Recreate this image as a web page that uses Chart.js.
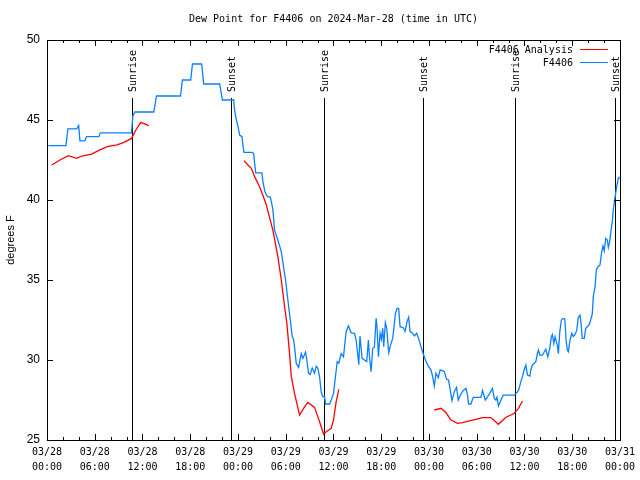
<!DOCTYPE html>
<html lang="en">
<head>
  <meta charset="UTF-8">
  <title>Dew Point for F4406</title>
  <script src="https://cdn.jsdelivr.net/npm/chart.js"></script>
  <style>
    body { margin: 0; background: #fff; }
    canvas { display: block; }
  </style>
</head>
<body>
  <canvas id="dewChart" width="640" height="480"></canvas>

  <script>
    // hours since 2024-03-28 00:00 UTC
    const stationHours = [
      0.16, 2.38, 2.63, 3.73, 3.98, 4.14, 4.77, 4.95, 6.52, 6.71, 10.62, 10.79, 11.04, 13.42, 13.76,
      16.77, 17.02, 18.06, 18.28, 19.44, 19.69, 21.70, 22.04, 23.46, 23.58, 23.80, 24.00, 24.21, 24.50,
      24.62, 24.75, 25.80, 25.97, 26.22, 27.01, 27.13, 27.35, 27.56, 27.76, 28.06, 28.19, 28.39, 28.60,
      29.01, 29.44, 29.73, 29.98, 30.27, 30.57, 30.82, 30.98, 31.11, 31.32, 31.61, 31.95, 32.15, 32.49,
      32.65, 32.87, 33.08, 33.33, 33.62, 33.83, 34.03, 34.25, 34.46, 34.66, 34.87, 35.00, 35.50, 35.71,
      36.00, 36.25, 36.47, 36.67, 36.97, 37.26, 37.59, 37.88, 38.22, 38.64, 38.85, 39.18, 39.33, 39.60,
      39.89, 40.18, 40.39, 40.52, 40.73, 40.93, 41.14, 41.36, 41.48, 41.65, 41.86, 42.02, 42.19, 42.31,
      42.52, 42.69, 42.94, 43.15, 43.44, 43.57, 43.78, 43.99, 44.19, 44.37, 44.78, 45.00, 45.25, 45.45,
      45.62, 45.95, 46.16, 46.45, 46.70, 47.00, 47.29, 47.63, 47.96, 48.26, 48.46, 48.67, 48.88, 49.17,
      49.39, 49.71, 49.93, 50.21, 50.46, 50.64, 50.89, 51.18, 51.47, 51.68, 51.93, 52.31, 52.65, 52.85,
      52.97, 53.27, 53.56, 54.53, 54.73, 55.07, 55.36, 55.70, 55.98, 56.20, 56.41, 56.54, 56.74, 57.04,
      57.33, 58.71, 58.92, 59.25, 59.55, 59.75, 59.96, 60.17, 60.38, 60.68, 60.80, 61.00, 61.43, 61.63,
      61.76, 61.93, 62.26, 62.68, 62.93, 63.18, 63.38, 63.51, 63.69, 63.85, 64.01, 64.14, 64.26, 64.44,
      64.64, 64.85, 65.07, 65.23, 65.39, 65.52, 65.69, 65.94, 66.14, 66.36, 66.57, 66.77, 66.98, 67.11,
      67.27, 67.52, 67.70, 67.90, 68.11, 68.33, 68.53, 68.65, 68.87, 69.03, 69.24, 69.49, 69.71, 69.87,
      70.03, 70.21, 70.41, 70.54, 70.71, 70.84, 71.04, 71.16, 71.34, 71.46, 71.59, 71.79, 71.88
    ];
    const stationDew = [
      43.4, 43.4, 44.45, 44.45, 44.65, 43.7, 43.7, 43.96, 43.96, 44.2, 44.2, 45.25, 45.5, 45.5, 46.5,
      46.5, 47.5, 47.5, 48.5, 48.5, 47.25, 47.25, 46.25, 46.25, 45.6, 45.0, 44.6, 44.06, 43.96,
      43.44, 42.98, 42.98, 42.9, 41.7, 41.7, 41.15, 40.6, 40.3, 40.2, 40.2, 39.9, 39.4, 38.1,
      37.5, 36.77, 35.8, 35.0, 33.75, 32.5, 31.46, 31.3, 30.8, 29.8, 29.54, 30.4, 30.1, 30.5,
      30.0, 29.17, 29.1, 29.5, 29.17, 29.6, 29.5, 28.96, 28.0, 27.7, 27.75, 27.25, 27.25, 27.5,
      27.9, 28.96, 29.9, 29.8, 30.4, 30.2, 31.77, 32.14, 31.7, 31.67, 31.25, 29.7, 31.5, 30.1,
      30.0, 29.9, 31.25, 30.2, 29.27, 30.73, 30.8, 32.6, 32.0, 30.2, 31.67, 31.3, 31.98, 30.83,
      32.35, 32.0, 30.46, 30.9, 31.35, 31.9, 32.9, 33.23, 33.23, 32.08, 32.02, 31.8, 32.4, 32.67,
      31.77, 31.67, 31.5, 31.67, 31.35, 30.83, 30.375, 29.9, 29.58, 29.375, 28.96, 28.375, 29.17, 28.9,
      29.375, 29.33, 29.27, 28.79, 28.75, 28.23, 27.46, 28.02, 28.29, 27.5, 27.8, 28.1, 28.23, 27.8,
      27.25, 27.25, 27.67, 27.67, 28.1, 27.5, 27.7, 27.98, 28.23, 27.6, 27.5, 27.67, 27.125, 27.5,
      27.8, 27.8, 27.9, 28.1, 28.65, 28.96, 29.375, 29.69, 29.06, 29.0, 29.375, 29.69, 29.9, 30.42,
      30.625, 30.3, 30.3, 30.67, 30.2, 30.73, 31.46, 31.6, 31.04, 31.46, 31.15, 30.9, 30.4, 31.77,
      32.5, 32.6, 32.56, 31.25, 30.625, 30.52, 31.15, 31.67, 31.46, 31.6, 31.85, 32.67, 32.8, 32.29,
      31.35, 31.35, 31.98, 32.08, 32.19, 32.5, 32.9, 33.96, 34.58, 35.625, 35.83, 35.94, 36.77, 37.125,
      36.83, 37.6, 37.5, 37.04, 37.4, 37.96, 38.65, 39.375, 40.04, 40.42, 40.83, 41.35, 41.46
    ];

    // null entries break the analysis line where there is no data
    const analysisHours = [
      0.59, 1.63, 2.67, 3.73, 4.35, 5.61, 6.52, 7.56, 8.82, 9.66, 10.62, 11.16, 11.79, 12.79,
      18.0,
      24.75, 25.25, 25.68, 26.09, 26.72, 27.13, 27.56, 27.89, 28.39, 29.01, 29.44, 29.86, 30.14,
      30.48, 30.70, 31.11, 31.74, 32.24, 32.78, 33.62, 34.03, 34.46, 34.75, 35.09, 35.71, 36.00,
      36.34, 36.67,
      42.0,
      48.67, 49.51, 50.14, 50.77, 51.59, 52.22, 53.06, 53.90, 54.73, 55.78, 56.74, 57.67, 58.29,
      58.71, 59.25, 59.75
    ];
    const analysisDew = [
      42.19, 42.5, 42.77, 42.6, 42.75, 42.87, 43.1, 43.33, 43.44, 43.6, 43.85, 44.375, 44.85, 44.65,
      null,
      42.46, 42.19, 41.98, 41.46, 40.83, 40.3, 39.69, 39.06, 38.1, 36.46, 35.0, 33.33, 32.3,
      30.4, 28.96, 27.9, 26.56, 26.98, 27.35, 27.04, 26.46, 25.83, 25.375, 25.52, 25.73, 26.25,
      27.4, 28.17,
      null,
      26.875, 26.98, 26.7, 26.25, 26.04, 26.08, 26.19, 26.29, 26.4, 26.4, 25.98, 26.42, 26.56,
      26.67, 26.98, 27.44
    ];

    const sunHours = [10.70, 23.17, 34.78, 47.20, 58.79, 71.34];
    const sunLabels = ['Sunrise', 'Sunset', 'Sunrise', 'Sunset', 'Sunrise', 'Sunset'];

    const tickDates = ['03/28', '03/29', '03/30', '03/31'];
    const yTicks = [25, 30, 35, 40, 45, 50];

    const mono = "'DejaVu Sans Mono', monospace";
    const sans = "'Liberation Sans', Arial, sans-serif";

    const toPoints = (xs, ys) => xs.map((x, i) => ({ x: x, y: ys[i] }));

    // sunrise / sunset markers, drawn under the data
    const sunPlugin = {
      id: 'sunLines',
      beforeDatasetsDraw(chart) {
        const ctx = chart.ctx;
        const xs = chart.scales.x;
        const area = chart.chartArea;
        ctx.save();
        ctx.strokeStyle = '#000';
        ctx.lineWidth = 1;
        ctx.fillStyle = '#000';
        ctx.font = '10px ' + mono;
        sunHours.forEach((h, i) => {
          const px = Math.round(xs.getPixelForValue(h)) + 0.5;
          ctx.beginPath();
          ctx.moveTo(px, area.top + 58);
          ctx.lineTo(px, area.bottom);
          ctx.stroke();
          ctx.save();
          ctx.translate(px + 1, area.top + 52);
          ctx.rotate(-Math.PI / 2);
          ctx.textAlign = 'left';
          ctx.textBaseline = 'middle';
          ctx.fillText(sunLabels[i], 0, 0);
          ctx.restore();
        });
        ctx.restore();
      }
    };

    // gnuplot style frame, inward ticks and legend
    const framePlugin = {
      id: 'frame',
      afterDatasetsDraw(chart) {
        const ctx = chart.ctx;
        const a = chart.chartArea;
        const xs = chart.scales.x;
        const ys = chart.scales.y;
        ctx.save();
        ctx.strokeStyle = '#000';
        ctx.lineWidth = 1;
        ctx.strokeRect(Math.round(a.left) + 0.5, Math.round(a.top) + 0.5,
          Math.round(a.right - a.left), Math.round(a.bottom - a.top));

        ctx.beginPath();
        for (let h = 0; h <= 72; h += 2) {
          const px = Math.round(xs.getPixelForValue(h)) + 0.5;
          const len = h % 6 === 0 ? 6 : 3;
          ctx.moveTo(px, a.bottom);
          ctx.lineTo(px, a.bottom - len);
          ctx.moveTo(px, a.top);
          ctx.lineTo(px, a.top + len);
        }
        yTicks.forEach(v => {
          const py = Math.round(ys.getPixelForValue(v)) + 0.5;
          ctx.moveTo(a.left, py);
          ctx.lineTo(a.left + 6, py);
          ctx.moveTo(a.right, py);
          ctx.lineTo(a.right - 6, py);
        });
        ctx.stroke();

        // legend
        ctx.font = '10px ' + mono;
        ctx.textAlign = 'right';
        ctx.textBaseline = 'middle';
        ctx.fillStyle = '#000';
        chart.data.datasets.forEach((ds, i) => {
          const y = a.top + 10 + i * 13 + 0.5;
          ctx.fillText(ds.label, a.right - 47, y);
          ctx.strokeStyle = ds.borderColor;
          ctx.beginPath();
          ctx.moveTo(a.right - 40, y - 1);
          ctx.lineTo(a.right - 12, y - 1);
          ctx.stroke();
        });
        ctx.restore();
      }
    };

    const ctx = document.getElementById('dewChart').getContext('2d');
    new Chart(ctx, {
      type: 'line',
      data: {
        datasets: [
          {
            label: 'F4406 Analysis',
            data: toPoints(analysisHours, analysisDew),
            borderColor: '#ff0000',
            borderWidth: 1.3,
            pointRadius: 0,
            tension: 0,
            spanGaps: false
          },
          {
            label: 'F4406',
            data: toPoints(stationHours, stationDew),
            borderColor: '#0a80ff',
            borderWidth: 1.3,
            pointRadius: 0,
            tension: 0
          }
        ]
      },
      options: {
        responsive: false,
        animation: false,
        layout: { padding: { top: 0, right: 19, bottom: 0, left: 0 } },
        plugins: {
          legend: { display: false },
          tooltip: { enabled: false },
          title: {
            display: true,
            fullSize: false,
            text: 'Dew Point for F4406 on 2024-Mar-28 (time in UTC)',
            color: '#000',
            font: { family: mono, size: 10, weight: 'normal', lineHeight: 1.2 },
            padding: { top: 13, bottom: 15 }
          }
        },
        scales: {
          x: {
            type: 'linear',
            min: 0,
            max: 72,
            grid: { display: false, drawTicks: false },
            border: { display: false },
            afterFit: s => { s.height = 40; },
            ticks: {
              stepSize: 6,
              autoSkip: false,
              maxRotation: 0,
              padding: 5,
              color: '#000',
              font: { family: mono, size: 10, lineHeight: 1.5 },
              callback: v => {
                const day = tickDates[Math.floor(v / 24)];
                const hr = String(v % 24).padStart(2, '0');
                return [day, hr + ':00'];
              }
            }
          },
          y: {
            min: 25,
            max: 50,
            grid: { display: false, drawTicks: false },
            border: { display: false },
            afterFit: s => { s.width = 47; },
            ticks: {
              stepSize: 5,
              padding: 7,
              color: '#000',
              font: { family: sans, size: 12 }
            },
            title: {
              display: true,
              text: 'degrees F',
              color: '#000',
              font: { family: sans, size: 11, lineHeight: 1.2 },
              padding: { top: 4, bottom: 0 }
            }
          }
        }
      },
      plugins: [sunPlugin, framePlugin]
    });
  </script>
</body>
</html>
